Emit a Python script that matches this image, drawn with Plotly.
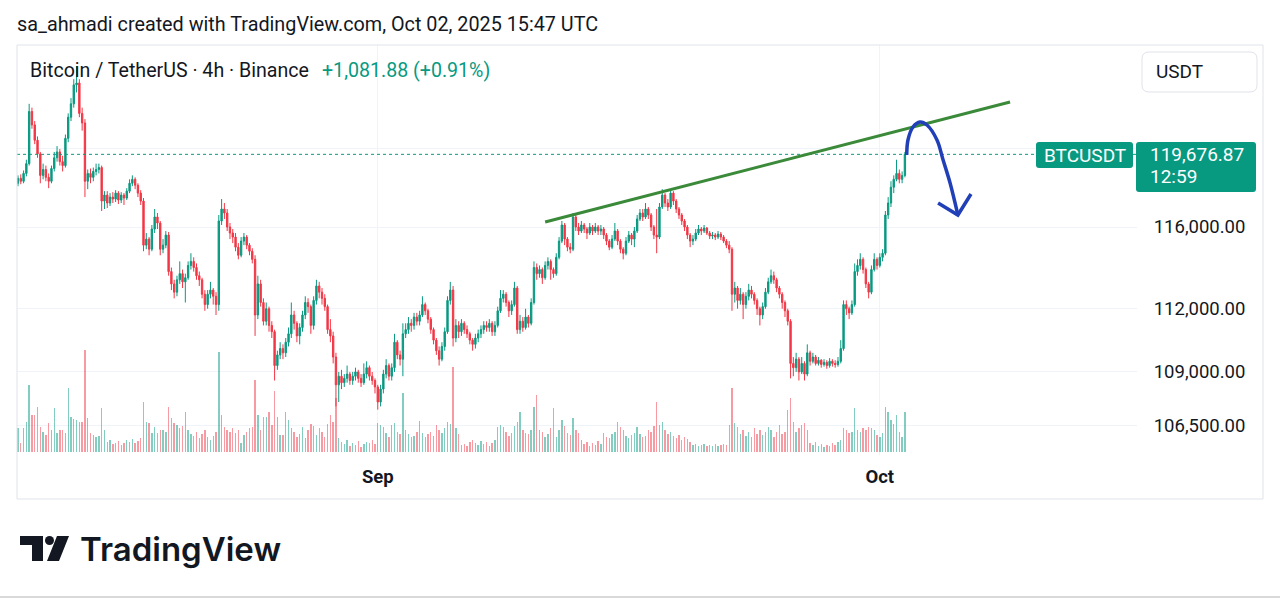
import numpy as np
import pandas as pd
import plotly.graph_objects as go

# ---------------- DATA (BTCUSDT, Binance, 4h candles, prices in thousands USDT) ----------------
start_time = "2025-08-10 12:00"
first_open_k = 118.20

close_k = [
    118.45, 118.30, 118.70,                              # Aug 10 (12,16,20h)
    119.20, 121.90, 121.20, 120.40, 119.70, 118.60,      # Aug 11
    118.90, 118.50, 118.30, 118.95, 119.50, 119.80,      # Aug 12
    119.30, 119.10, 120.50, 121.60, 122.30, 123.30,      # Aug 13
    123.40, 121.80, 121.30, 118.30, 118.70, 118.50,      # Aug 14
    118.80, 118.90, 119.00, 117.30, 117.60, 117.20,      # Aug 15
    117.50, 117.40, 117.70, 117.35, 117.60, 117.45,      # Aug 16
    117.80, 118.20, 118.40, 118.10, 117.70, 117.30,      # Aug 17
    115.10, 115.40, 114.90, 115.90, 116.50, 116.20,      # Aug 18
    114.90, 115.10, 115.60, 113.80, 113.20, 112.80,      # Aug 19
    113.40, 113.70, 113.30, 113.50, 114.10, 114.30,      # Aug 20
    114.00, 113.60, 113.40, 112.70, 112.20, 112.70,      # Aug 21
    112.90, 112.60, 112.20, 116.30, 116.90, 116.70,      # Aug 22
    116.00, 115.70, 115.50, 115.00, 114.60, 115.30,      # Aug 23
    115.50, 115.10, 114.80, 114.40, 111.70, 113.20,      # Aug 24
    112.30, 111.40, 112.00, 111.20, 110.90, 109.30,      # Aug 25
    109.80, 110.10, 109.90, 110.40, 110.80, 111.70,      # Aug 26
    111.30, 110.70, 111.10, 111.70, 112.30, 112.10,      # Aug 27
    111.20, 112.40, 113.10, 112.80, 112.50, 112.10,      # Aug 28
    111.00, 110.70, 109.70, 108.40, 108.80, 108.50,      # Aug 29
    108.70, 108.90, 108.60, 108.80, 109.00, 108.70,      # Aug 30
    108.50, 108.90, 109.20, 108.80, 108.60, 108.30,      # Aug 31
    107.60, 108.20, 108.90, 109.30, 108.80, 109.20,      # Sep 1
    110.40, 109.80, 109.60, 110.80, 111.00, 111.30,      # Sep 2
    111.20, 111.60, 111.40, 111.70, 112.20, 111.90,      # Sep 3
    111.50, 111.00, 110.50, 110.00, 109.60, 110.20,      # Sep 4
    110.90, 112.40, 112.90, 110.60, 111.20, 110.90,      # Sep 5
    111.30, 111.00, 110.80, 110.50, 110.30, 110.60,      # Sep 6
    110.80, 111.00, 111.20, 111.10, 111.30, 110.90,      # Sep 7
    111.20, 111.90, 112.50, 112.70, 112.30, 111.90,      # Sep 8
    112.20, 113.00, 111.00, 111.40, 111.10, 111.60,      # Sep 9
    111.30, 112.30, 114.00, 113.70, 113.90, 113.50,      # Sep 10
    114.10, 114.30, 113.90, 113.70, 114.50, 115.30,      # Sep 11
    116.10, 115.40, 115.00, 114.90, 116.50, 116.00,      # Sep 12
    115.80, 116.10, 115.90, 115.70, 116.00, 115.80,      # Sep 13
    116.00, 115.80, 115.90, 115.60, 115.30, 115.00,      # Sep 14
    115.40, 115.80, 115.30, 114.90, 114.70, 115.30,      # Sep 15
    115.60, 115.40, 115.80, 116.40, 116.70, 116.50,      # Sep 16
    116.90, 116.60, 116.00, 115.60, 115.50, 117.00,      # Sep 17
    117.60, 117.20, 117.00, 117.70, 117.30, 116.90,      # Sep 18
    116.60, 116.30, 116.00, 115.60, 115.30, 115.40,      # Sep 19
    115.70, 115.90, 115.80, 115.95, 115.70, 115.55,      # Sep 20
    115.60, 115.50, 115.65, 115.50, 115.30, 115.10,      # Sep 21
    114.90, 112.70, 113.00, 112.40, 112.70, 112.20,      # Sep 22
    112.60, 112.90, 112.70, 112.40, 112.00, 111.70,      # Sep 23
    112.10, 112.80, 113.30, 113.60, 113.40, 113.00,      # Sep 24
    112.70, 112.30, 111.90, 111.40, 109.40, 109.20,      # Sep 25
    109.60, 109.00, 109.40, 108.90, 109.90, 109.50,      # Sep 26
    109.70, 109.40, 109.55, 109.35, 109.45, 109.30,      # Sep 27
    109.50, 109.40, 109.35, 109.50, 110.10, 112.20,      # Sep 28
    112.00, 111.80, 112.20, 113.80, 114.10, 114.40,      # Sep 29
    113.90, 113.20, 112.80, 113.90, 114.40, 114.10,      # Sep 30
    114.50, 114.70, 116.60, 117.20, 118.00, 118.40,      # Oct 1
    118.70, 118.40, 118.595, 119.67687,                  # Oct 2 (00-12h)
]

high_k = [
    118.60, 118.65, 118.85,
    119.40, 122.30, 122.10, 121.40, 120.60, 119.80,
    119.20, 119.10, 118.70, 119.10, 119.80, 120.10,
    119.95, 119.60, 120.70, 121.80, 122.60, 123.60,
    124.30, 123.60, 122.10, 121.50, 118.90, 118.95,
    119.00, 119.20, 119.20, 119.10, 117.80, 117.80,
    117.70, 117.75, 117.85, 117.80, 117.75, 117.70,
    117.95, 118.40, 118.60, 118.50, 118.20, 117.85,
    117.45, 115.70, 115.50, 116.10, 116.90, 116.70,
    116.30, 115.40, 115.80, 115.75, 114.00, 113.40,
    113.60, 114.30, 113.90, 113.70, 114.30, 114.70,
    114.50, 114.20, 113.80, 113.50, 112.90, 112.90,
    113.30, 113.00, 112.80, 116.60, 117.40, 117.20,
    116.90, 116.20, 115.90, 115.70, 115.20, 115.50,
    115.70, 115.60, 115.20, 114.95, 114.60, 113.60,
    113.40, 112.50, 112.30, 112.10, 111.40, 111.00,
    110.00, 110.40, 110.30, 110.60, 111.10, 112.30,
    111.90, 111.40, 111.30, 111.90, 112.60, 112.50,
    112.20, 112.60, 113.40, 113.30, 113.00, 112.70,
    112.20, 111.50, 110.90, 109.90, 109.00, 109.10,
    108.90, 109.30, 109.00, 109.00, 109.20, 109.10,
    108.90, 109.40, 109.50, 109.30, 109.00, 108.70,
    108.40, 108.40, 109.10, 109.60, 109.40, 109.40,
    110.80, 110.50, 110.00, 111.30, 111.30, 111.60,
    111.50, 111.80, 111.80, 111.90, 112.60, 112.30,
    112.00, 111.60, 111.10, 110.60, 110.20, 110.40,
    111.10, 112.60, 113.30, 113.10, 111.50, 111.40,
    111.50, 111.40, 111.20, 110.90, 110.60, 110.80,
    111.00, 111.20, 111.40, 111.40, 111.50, 111.40,
    111.40, 112.10, 112.90, 112.90, 112.80, 112.40,
    112.40, 113.30, 113.10, 111.70, 111.60, 112.00,
    111.70, 112.50, 114.30, 114.20, 114.10, 114.00,
    114.30, 114.50, 114.40, 114.00, 114.70, 115.50,
    116.30, 116.20, 115.50, 115.20, 116.70, 116.60,
    116.20, 116.30, 116.20, 116.00, 116.20, 116.10,
    116.20, 116.10, 116.10, 116.00, 115.70, 115.40,
    115.60, 116.20, 115.90, 115.40, 115.00, 115.50,
    115.80, 115.70, 116.00, 116.60, 116.90, 116.90,
    117.20, 117.00, 116.70, 116.10, 116.90, 117.20,
    117.90, 117.70, 117.40, 117.90, 117.80, 117.40,
    117.00, 116.70, 116.40, 116.10, 115.70, 115.60,
    115.90, 116.10, 116.00, 116.10, 116.00, 115.80,
    115.75, 115.70, 115.80, 115.75, 115.60, 115.40,
    115.30, 115.00, 113.30, 113.10, 113.00, 112.80,
    112.80, 113.20, 113.10, 112.80, 112.50, 112.10,
    112.30, 113.00, 113.50, 113.90, 113.80, 113.50,
    113.10, 112.80, 112.40, 112.00, 111.50, 109.70,
    109.90, 109.70, 109.70, 109.50, 110.30, 110.00,
    109.90, 109.80, 109.70, 109.60, 109.60, 109.55,
    109.65, 109.60, 109.55, 109.70, 110.50, 112.40,
    112.40, 112.10, 112.40, 114.20, 114.40, 114.70,
    114.50, 114.00, 113.30, 114.10, 114.70, 114.50,
    114.70, 114.90, 116.80, 117.50, 118.30, 118.60,
    119.40, 118.90, 118.80, 119.80,
]

low_k = [
    118.05, 118.15, 118.20,
    118.55, 119.10, 121.00, 120.20, 119.50, 118.20,
    118.40, 118.30, 117.95, 118.20, 118.80, 119.30,
    119.10, 118.80, 119.00, 120.30, 121.40, 122.10,
    122.90, 121.60, 120.90, 117.50, 117.90, 118.20,
    118.30, 118.60, 118.70, 116.80, 116.90, 116.95,
    117.05, 117.20, 117.25, 117.15, 117.20, 117.10,
    117.35, 117.70, 118.05, 117.90, 117.50, 117.10,
    114.80, 114.90, 114.60, 114.80, 115.70, 115.90,
    114.60, 114.70, 114.95, 113.60, 112.90, 112.50,
    112.60, 113.20, 113.00, 112.30, 113.40, 113.90,
    113.80, 113.40, 113.10, 112.50, 111.90, 112.00,
    112.50, 112.20, 111.70, 111.90, 116.10, 116.40,
    115.80, 115.40, 115.20, 114.80, 114.40, 114.50,
    115.10, 114.90, 114.60, 114.20, 110.70, 111.50,
    112.10, 111.20, 111.20, 110.90, 110.60, 108.60,
    109.10, 109.60, 109.60, 109.70, 110.20, 110.60,
    111.00, 110.40, 110.30, 110.90, 111.50, 111.80,
    110.80, 111.00, 112.20, 112.50, 112.20, 111.90,
    110.80, 110.40, 109.40, 107.40, 107.60, 108.20,
    108.30, 108.50, 108.40, 108.40, 108.60, 108.50,
    108.30, 108.40, 108.70, 108.60, 108.40, 108.00,
    107.25, 107.40, 108.00, 108.70, 108.60, 108.60,
    109.00, 109.60, 109.30, 108.80, 110.60, 110.80,
    110.90, 111.00, 111.20, 111.20, 111.60, 111.70,
    111.30, 110.80, 110.30, 109.80, 109.30, 109.50,
    110.00, 110.80, 112.20, 110.20, 110.40, 110.60,
    110.70, 110.80, 110.60, 110.30, 110.00, 110.10,
    110.40, 110.60, 110.80, 110.90, 110.90, 110.70,
    110.70, 111.10, 111.80, 112.30, 112.10, 111.60,
    111.70, 112.10, 110.80, 110.80, 110.90, 111.00,
    111.10, 111.20, 112.20, 113.40, 113.50, 113.20,
    113.40, 113.90, 113.40, 113.50, 113.60, 114.40,
    115.20, 115.10, 114.80, 114.70, 114.80, 115.80,
    115.60, 115.70, 115.70, 115.40, 115.60, 115.60,
    115.70, 115.60, 115.60, 115.40, 115.10, 114.85,
    114.90, 115.30, 115.10, 114.70, 114.40, 114.60,
    115.20, 115.10, 115.00, 115.70, 116.30, 116.30,
    116.40, 116.40, 115.80, 115.40, 114.70, 115.40,
    116.90, 117.00, 116.80, 116.90, 117.10, 116.70,
    116.40, 116.10, 115.80, 115.40, 115.00, 115.10,
    115.30, 115.60, 115.60, 115.70, 115.60, 115.40,
    115.40, 115.35, 115.40, 115.35, 115.20, 114.95,
    114.70, 111.90, 112.30, 112.00, 112.20, 111.50,
    112.00, 112.40, 112.50, 112.20, 111.70, 111.20,
    111.50, 112.00, 112.70, 113.20, 113.20, 112.80,
    112.50, 112.00, 111.60, 111.20, 108.70, 108.80,
    109.00, 108.60, 108.90, 108.60, 108.80, 109.30,
    109.40, 109.30, 109.30, 109.20, 109.25, 109.15,
    109.20, 109.25, 109.20, 109.25, 109.40, 110.00,
    111.70, 111.50, 111.70, 112.10, 113.60, 113.90,
    113.70, 113.00, 112.50, 112.70, 113.80, 113.90,
    114.00, 114.30, 114.60, 116.40, 117.00, 117.70,
    118.30, 118.20, 118.20, 118.50,
]

# volume, in hundreds of BTC
volume_h = [
    24, 9, 24,
    30, 67, 37, 37, 45, 25,
    20, 17, 29, 22, 44, 19,
    22, 22, 19, 64, 35, 33,
    32, 30, 30, 102, 34, 19,
    17, 15, 16, 44, 22, 10,
    12, 8, 9, 11, 7, 9,
    12, 10, 13, 9, 11, 14,
    50, 30, 29, 19, 25, 19,
    22, 22, 20, 45, 34, 29,
    27, 24, 26, 40, 22, 18,
    16, 20, 14, 18, 22, 15,
    12, 16, 20, 100, 37, 25,
    22, 20, 24, 19, 22, 9,
    17, 20, 24, 25, 72, 37,
    22, 35, 35, 40, 27, 61,
    35, 17, 17, 40, 32, 24,
    20, 15, 18, 25, 14, 22,
    28, 26, 17, 24, 20, 15,
    28, 37, 30, 54, 14, 10,
    8, 12, 6, 9, 7, 11,
    5, 8, 10, 9, 12, 8,
    29, 27, 25, 19, 15, 27,
    29, 20, 18, 59, 22, 18,
    15, 16, 20, 31, 19, 15,
    18, 20, 16, 27, 22, 19,
    24, 30, 28, 85, 24, 18,
    7, 8, 6, 10, 12, 9,
    7, 11, 8, 10, 6, 9,
    12, 25, 27, 25, 20, 16,
    19, 26, 30, 40, 22, 19,
    18, 22, 45, 57, 22, 20,
    15, 18, 24, 44, 15, 22,
    32, 26, 19, 17, 34, 22,
    19, 12, 8, 10, 6, 9,
    7, 11, 8, 19, 15, 14,
    18, 20, 30, 25, 22, 16,
    14, 17, 19, 25, 18, 15,
    16, 22, 20, 26, 50, 27,
    30, 22, 18, 20, 16, 14,
    17, 12, 15, 13, 10, 7,
    8, 6, 7, 8, 6, 7,
    6, 8, 6, 7, 8, 7,
    27, 64, 29, 25, 18, 22,
    16, 20, 15, 24, 18, 22,
    17, 20, 25, 22, 15, 20,
    27, 18, 20, 42, 54, 30,
    20, 24, 27, 29, 22, 9,
    7, 10, 6, 8, 5, 7,
    6, 9, 7, 10, 12, 24,
    22, 19, 20, 44, 22, 20,
    24, 22, 25, 24, 22, 17,
    15, 19, 45, 40, 32, 28,
    37, 20, 15, 40,
]

price_ticks = [106500, 109000, 112000, 116000, 120000]
price_tick_labels = ["106,500.00", "109,000.00", "112,000.00", "116,000.00", "120,000.00"]
month_ticks = ["2025-09-01", "2025-10-01"]
month_labels = ["Sep", "Oct"]

# hand-drawn annotations (time, price)
trend_time = ["2025-09-11 00:00", "2025-10-08 18:48"]
trend_price = [116250, 122400]
curve_time = ["2025-10-02 14:36", "2025-10-02 16:24", "2025-10-02 23:36", "2025-10-03 09:36",
              "2025-10-03 19:36", "2025-10-04 10:00", "2025-10-04 18:48", "2025-10-05 04:48",
              "2025-10-05 16:00"]
curve_price = [119642, 120416, 121089, 121350, 121193, 120416, 119385, 118212, 116600]
head_time = ["2025-10-04 11:36", "2025-10-05 16:00", "2025-10-06 10:48"]
head_price = [117202, 116600, 117655]

change_text = "+1,081.88 (+0.91%)"
last_time_left = "12:59"

# ---------------- BUILD ----------------
n = min(len(close_k), len(high_k), len(low_k), len(volume_h))
close = np.array(close_k[:n]) * 1000
high = np.array(high_k[:n]) * 1000
low = np.array(low_k[:n]) * 1000
open_ = np.concatenate([[first_open_k], close_k[:n - 1]]) * 1000
times = pd.date_range(start_time, periods=n, freq="4h")
last_price = close[-1]

UP = "#089981"
DOWN = "#F23645"
TXT = "#131722"
GRID = "#f0f3fa"
FONT = "Roboto"

W, H = 1280, 599
L, R, T, B = 17, 1137, 45, 455        # plot area in pixels
first_bar_px, bar_px = 18.0, 2.789     # horizontal placement of the candles
ref_py, ref_price, px_per_ln = 227.0, 116000.0, 2328.8   # log price scale placement


def px(x):
    return (x - L) / (R - L)


def py(y):
    return (B - y) / (B - T)


t0 = pd.Timestamp(start_time)
x_left = t0 + pd.Timedelta(hours=4 * (L - first_bar_px) / bar_px)
x_right = t0 + pd.Timedelta(hours=4 * (R - first_bar_px) / bar_px)
p_top = ref_price * np.exp((ref_py - T) / px_per_ln)
p_bot = ref_price * np.exp((ref_py - B) / px_per_ln)

vol_colors = ["rgba(8,153,129,0.5)" if c >= o else "rgba(242,54,69,0.5)" for o, c in zip(open_, close)]

fig = go.Figure()
fig.add_trace(go.Bar(x=times, y=volume_h[:n], yaxis="y", marker=dict(color=vol_colors, line=dict(width=0)),
                     width=4 * 3600 * 1000 * 0.5, hoverinfo="skip", showlegend=False))
fig.add_trace(go.Candlestick(x=times, open=open_, high=high, low=low, close=close, yaxis="y2",
                             increasing=dict(line=dict(color=UP, width=1), fillcolor=UP),
                             decreasing=dict(line=dict(color=DOWN, width=1), fillcolor=DOWN),
                             whiskerwidth=0, hoverinfo="skip", showlegend=False))
fig.add_trace(go.Scatter(x=[x_left, x_right], y=[last_price, last_price], yaxis="y2", mode="lines",
                         line=dict(color=UP, width=1, dash="dot"), hoverinfo="skip", showlegend=False))
fig.add_trace(go.Scatter(x=trend_time, y=trend_price, yaxis="y2", mode="lines",
                         line=dict(color="#3b8a3a", width=3), hoverinfo="skip", showlegend=False))
fig.add_trace(go.Scatter(x=curve_time, y=curve_price, yaxis="y2", mode="lines",
                         line=dict(color="#2140b8", width=3.5, shape="spline", smoothing=1.0),
                         hoverinfo="skip", showlegend=False))
fig.add_trace(go.Scatter(x=head_time, y=head_price, yaxis="y2", mode="lines",
                         line=dict(color="#2140b8", width=3.5), hoverinfo="skip", showlegend=False))


def rounded(x0, y0, x1, y1, r):
    X = lambda v: f"{px(v):.5f}"
    Y = lambda v: f"{py(v):.5f}"
    return (f"M {X(x0 + r)},{Y(y0)} L {X(x1 - r)},{Y(y0)} Q {X(x1)},{Y(y0)} {X(x1)},{Y(y0 + r)} "
            f"L {X(x1)},{Y(y1 - r)} Q {X(x1)},{Y(y1)} {X(x1 - r)},{Y(y1)} L {X(x0 + r)},{Y(y1)} "
            f"Q {X(x0)},{Y(y1)} {X(x0)},{Y(y1 - r)} L {X(x0)},{Y(y0 + r)} Q {X(x0)},{Y(y0)} {X(x0 + r)},{Y(y0)} Z")


def poly(pts):
    return "M " + " L ".join(f"{px(a):.5f},{py(b):.5f}" for a, b in pts) + " Z"


shapes = [
    dict(type="rect", xref="paper", yref="paper", x0=px(17), x1=px(1263), y0=py(45), y1=py(499),
         line=dict(color="#e0e3eb", width=1), fillcolor="rgba(0,0,0,0)", layer="above"),
    dict(type="path", xref="paper", yref="paper", path=rounded(1142, 52, 1257, 92, 7),
         line=dict(color="#e0e3eb", width=1), fillcolor="white", layer="above"),
    dict(type="path", xref="paper", yref="paper", path=rounded(1036, 142, 1133, 168, 3),
         line=dict(width=0), fillcolor=UP, layer="above"),
    dict(type="path", xref="paper", yref="paper", path=rounded(1136, 142, 1256, 192, 3),
         line=dict(width=0), fillcolor=UP, layer="above"),
    dict(type="line", xref="paper", yref="paper", x0=px(0), x1=px(1280), y0=py(597), y1=py(597),
         line=dict(color="#d9d9d9", width=2), layer="above"),
    # TradingView logo mark
    dict(type="path", xref="paper", yref="paper",
         path=poly([(20, 536), (43, 536), (43, 561), (32, 561), (32, 545), (20, 545)]),
         line=dict(width=0), fillcolor=TXT, layer="above"),
    dict(type="circle", xref="paper", yref="paper", x0=px(45), x1=px(54), y0=py(545), y1=py(536),
         line=dict(width=0), fillcolor=TXT, layer="above"),
    dict(type="path", xref="paper", yref="paper",
         path=poly([(57, 536), (69, 536), (59, 561), (47, 561)]),
         line=dict(width=0), fillcolor=TXT, layer="above"),
]


def ann(text, x, y, size, color=TXT, xanchor="left", family=FONT, weight=None):
    f = dict(family=family, size=size, color=color)
    if weight:
        f["weight"] = weight
    return dict(text=text, xref="paper", yref="paper", x=px(x), y=py(y), xanchor=xanchor,
                yanchor="middle", showarrow=False, font=f)


annotations = [
    ann("sa_ahmadi created with TradingView.com, Oct 02, 2025 15:47 UTC", 15, 25, 19.8),
    ann("Bitcoin / TetherUS · 4h · Binance", 28, 70, 19.6),
    ann(change_text, 320, 70, 19.6, color=UP),
    ann("USDT", 1154, 72, 19),
    ann("BTCUSDT", 1084.5, 155, 19, color="white", xanchor="center"),
    ann(f"{last_price:,.2f}", 1148, 154, 19, color="white"),
    ann(last_time_left, 1148, 177, 19, color="white"),
    ann("TradingView", 78, 549, 33, family="Inter", weight=600),
]

fig.update_layout(
    width=W, height=H,
    margin=dict(l=L, r=W - R, t=T, b=H - B, pad=0),
    paper_bgcolor="white", plot_bgcolor="white",
    showlegend=False, bargap=0,
    xaxis=dict(type="date", range=[x_left, x_right], rangeslider=dict(visible=False),
               tickmode="array", tickvals=month_ticks, ticktext=[f"<b>{m}</b>" for m in month_labels],
               tickfont=dict(family=FONT, size=18.5, color=TXT), ticks="outside", ticklen=5,
               tickcolor="rgba(0,0,0,0)", showgrid=True, gridcolor=GRID, gridwidth=1,
               zeroline=False, showline=False, fixedrange=True),
    yaxis=dict(range=[-3, 407], visible=False, showgrid=False, zeroline=False, fixedrange=True),
    yaxis2=dict(type="log", overlaying="y", side="right", anchor="x",
                range=[np.log10(p_bot), np.log10(p_top)],
                tickmode="array", tickvals=price_ticks, ticktext=price_tick_labels,
                tickfont=dict(family=FONT, size=18.5, color=TXT), ticks="outside", ticklen=12,
                tickcolor="rgba(0,0,0,0)", showgrid=True, gridcolor=GRID, gridwidth=1,
                zeroline=False, showline=False, fixedrange=True),
    shapes=shapes, annotations=annotations,
    font=dict(family=FONT, color=TXT),
)

fig.write_html("out.html")
